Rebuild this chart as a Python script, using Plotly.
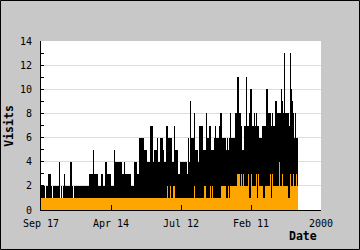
import plotly.graph_objects as go

# One value per drawn column of the period (left to right)
visits = [
    2, 2, 2, 2, 1, 2, 2, 3, 3, 3,
    2, 1, 2, 2, 2, 2, 2, 2, 4, 1,
    2, 1, 2, 3, 2, 2, 2, 2, 2, 4,
    4, 2, 1, 2, 2, 2, 2, 2, 2, 2,
    2, 2, 2, 2, 2, 2, 2, 2, 3, 3,
    3, 3, 5, 3, 3, 3, 3, 2, 2, 2,
    3, 3, 2, 2, 4, 4, 3, 3, 3, 3,
    2, 2, 2, 5, 4, 4, 4, 4, 4, 4,
    4, 3, 3, 4, 3, 3, 3, 3, 3, 3,
    2, 2, 2, 4, 4, 4, 3, 3, 6, 6,
    6, 6, 6, 5, 5, 5, 4, 4, 4, 7,
    7, 7, 4, 5, 5, 5, 6, 4, 4, 6,
    6, 6, 5, 4, 4, 7, 7, 6, 6, 6,
    6, 4, 4, 7, 5, 5, 5, 3, 3, 4,
    4, 4, 4, 4, 4, 4, 3, 6, 4, 9,
    6, 6, 6, 8, 5, 5, 5, 4, 7, 7,
    7, 7, 5, 5, 5, 8, 6, 6, 7, 7,
    5, 5, 5, 6, 7, 6, 6, 6, 7, 8,
    8, 6, 6, 6, 6, 5, 6, 5, 6, 8,
    6, 6, 6, 6, 8, 8, 11, 11, 8, 8,
    7, 5, 5, 7, 7, 11, 7, 7, 8, 10,
    10, 7, 7, 8, 7, 8, 7, 7, 6, 6,
    6, 7, 7, 7, 7, 10, 10, 8, 8, 8,
    7, 8, 7, 7, 9, 9, 8, 8, 8, 8,
    10, 9, 8, 13, 8, 8, 8, 8, 7, 13,
    10, 9, 8, 6, 8, 6, 6,
]

uniques = [
    1, 1, 1, 1, 1, 1, 1, 1, 1, 1, 1, 1, 1, 1, 1, 1, 1, 1, 1, 1,
    1, 1, 1, 1, 1, 1, 1, 1, 1, 1, 1, 1, 1, 1, 1, 1, 1, 1, 1, 1,
    1, 1, 1, 1, 1, 1, 1, 1, 1, 1, 1, 1, 1, 1, 1, 1, 1, 1, 1, 1,
    1, 1, 1, 1, 1, 1, 1, 1, 1, 1, 1, 1, 1, 1, 1, 1, 1, 1, 1, 1,
    1, 1, 1, 1, 1, 1, 1, 1, 1, 1, 1, 1, 1, 1, 1, 1, 1, 1, 1, 1,
    1, 1, 1, 1, 1, 1, 1, 1, 1, 1, 1, 1, 1, 1, 1, 1, 1, 1, 1, 1,
    1, 1, 1, 1, 1, 1, 2, 1, 1, 2,
    1, 1, 2, 2, 1, 1, 1, 1, 1, 1,
    1, 1, 1, 1, 1, 1, 1, 1, 1, 1,
    1, 1, 1, 2, 1, 1, 1, 1, 1, 1,
    1, 1, 1, 2, 2, 1, 1, 1, 1, 2,
    1, 2, 1, 1, 1, 1, 1, 1, 1, 1,
    2, 2, 2, 2, 2, 1, 1, 2, 1, 2,
    2, 2, 2, 2, 2, 2, 3, 3, 3, 2,
    3, 2, 3, 2, 2, 2, 2, 3, 1, 1,
    3, 2, 2, 2, 2, 3, 1, 3, 2, 2,
    2, 2, 1, 1, 2, 2, 2, 2, 2, 3,
    1, 3, 2, 2, 2, 2, 2, 2, 4, 2,
    2, 3, 2, 2, 2, 2, 2, 1, 1, 3,
    2, 2, 3, 2, 2, 3, 2,
]

tick_labels = ["Sep 17", "Apr 14", "Jul 12", "Feb 11", "2000"]
tick_slots = [0, 70, 140, 210, 280]
y_max = 14

xs = list(range(len(visits)))
tickvals = [t - 0.5 for t in tick_slots]

fig = go.Figure()
fig.add_trace(go.Bar(x=xs, y=visits, width=1, marker=dict(color="#000000", line=dict(width=0)),
                     hoverinfo="skip"))
fig.add_trace(go.Bar(x=xs, y=uniques, width=1, marker=dict(color="#ffa500", line=dict(width=0)),
                     hoverinfo="skip"))

mono = "DejaVu Sans Mono"
fig.update_layout(
    width=360, height=250,
    margin=dict(l=41, r=39, t=41, b=40),
    paper_bgcolor="#c8c8c8", plot_bgcolor="#ffffff",
    barmode="overlay", bargap=0, showlegend=False,
    font=dict(family=mono, size=10, color="#000000"),
    xaxis=dict(range=[-0.5, 279.5], tickvals=tickvals, ticktext=tick_labels,
               ticks="inside", ticklen=5, tickcolor="#000000", showgrid=False,
               showline=True, linecolor="#000000", linewidth=1, zeroline=False,
               ticklabelstandoff=4,
               tickfont=dict(family=mono, size=10, color="#000000")),
    yaxis=dict(range=[0, y_max], dtick=2, ticks="inside", ticklen=3, tickcolor="#000000",
               showgrid=True, gridcolor="#dcdcdc", gridwidth=1,
               showline=True, linecolor="#000000", linewidth=1, zeroline=False,
               ticklabelstandoff=6,
               minor=dict(dtick=1, ticks="inside", ticklen=3, tickcolor="#000000", showgrid=False),
               tickfont=dict(family=mono, size=10, color="#000000")),
    annotations=[
        dict(text="<b>Visits</b>", xref="paper", yref="paper", x=-0.117, y=0.5,
             textangle=-90, showarrow=False, xanchor="center", yanchor="middle",
             font=dict(family=mono, size=11.5, color="#000000")),
        dict(text="<b>Date</b>", xref="paper", yref="paper", x=0.993, y=-0.154,
             showarrow=False, xanchor="right", yanchor="middle",
             font=dict(family=mono, size=11.5, color="#000000")),
    ],
    shapes=[
        dict(type="rect", xref="paper", yref="paper",
             x0=-0.1446, x1=1.1375, y0=-0.2337, y1=1.2396,
             line=dict(color="#000000", width=1), fillcolor="rgba(0,0,0,0)", layer="above"),
    ],
)

fig.write_html("out.html")
